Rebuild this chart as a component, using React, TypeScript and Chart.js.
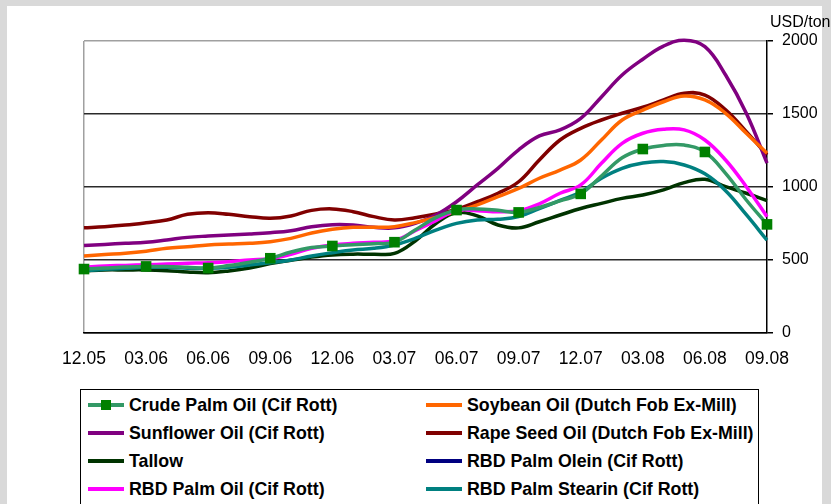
import React, { useEffect, useRef } from "react";
import { Chart, registerables } from "chart.js";
Chart.register(...registerables);

const months = [
  "12.05", "01.06", "02.06", "03.06", "04.06", "05.06", "06.06", "07.06", "08.06", "09.06",
  "10.06", "11.06", "12.06", "01.07", "02.07", "03.07", "04.07", "05.07", "06.07", "07.07",
  "08.07", "09.07", "10.07", "11.07", "12.07", "01.08", "02.08", "03.08", "04.08", "05.08",
  "06.08", "07.08", "08.08", "09.08",
];

const crudePalmOil = [438, 445, 452, 456, 455, 450, 445, 462, 485, 512, 555, 585, 596, 605, 612, 622, 705, 790, 842, 850, 840, 826, 860, 905, 953, 1075, 1200, 1260, 1285, 1287, 1240, 1094, 911, 744];
const soybeanOil = [527, 537, 546, 560, 580, 591, 603, 609, 614, 625, 648, 685, 710, 724, 724, 728, 756, 792, 831, 877, 934, 990, 1060, 1116, 1185, 1322, 1459, 1527, 1584, 1623, 1596, 1505, 1368, 1231];
const sunflowerOil = [600, 607, 614, 621, 637, 655, 664, 671, 678, 687, 701, 728, 742, 740, 724, 720, 751, 808, 899, 1014, 1128, 1255, 1350, 1391, 1470, 1617, 1767, 1875, 1965, 2005, 1961, 1767, 1505, 1164];
const rapeSeedOil = [721, 728, 739, 755, 774, 813, 824, 813, 797, 786, 802, 840, 850, 831, 797, 774, 790, 815, 847, 899, 957, 1036, 1185, 1322, 1402, 1459, 1505, 1546, 1596, 1642, 1630, 1528, 1379, 1220];
const tallow = [425, 432, 432, 432, 427, 418, 413, 425, 445, 475, 498, 520, 535, 540, 540, 545, 630, 750, 825, 802, 740, 720, 762, 808, 853, 888, 922, 945, 980, 1030, 1053, 1002, 957, 907];
const rbdPalmOlein: (number | null)[] = [];
const rbdPalmOil = [450, 459, 463, 468, 472, 477, 481, 488, 500, 509, 539, 580, 603, 614, 621, 632, 700, 770, 838, 838, 831, 838, 885, 957, 1014, 1162, 1299, 1368, 1395, 1391, 1322, 1185, 1002, 797];
const rbdPalmStearin = [425, 436, 443, 450, 450, 443, 443, 450, 466, 481, 500, 528, 550, 569, 580, 603, 648, 705, 751, 774, 779, 797, 852, 908, 965, 1060, 1128, 1164, 1174, 1151, 1090, 975, 810, 636];

const seriesNames = [
  "Crude Palm Oil (Cif Rott)",
  "Soybean Oil (Dutch Fob Ex-Mill)",
  "Sunflower Oil (Cif Rott)",
  "Rape Seed Oil (Dutch Fob Ex-Mill)",
  "Tallow",
  "RBD Palm Olein (Cif Rott)",
  "RBD Palm Oil (Cif Rott)",
  "RBD Palm Stearin (Cif Rott)",
];
const seriesData = [crudePalmOil, soybeanOil, sunflowerOil, rapeSeedOil, tallow, rbdPalmOlein, rbdPalmOil, rbdPalmStearin];
const seriesColors = ["#339966", "#ff6600", "#800080", "#800000", "#003300", "#000080", "#ff00ff", "#008080"];
const seriesOrder = [0, 3, 4, 5, 6, 7, 1, 2];
const markerColor = "#008000";

const FONT = '"Liberation Sans", Arial, Helvetica, sans-serif';

export default function App() {
  const ref = useRef<HTMLCanvasElement>(null);

  useEffect(() => {
    const canvas = ref.current;
    if (!canvas) return;
    const chart = new Chart(canvas, {
      type: "line",
      data: {
        labels: months,
        datasets: seriesNames.map((name, i) => ({
          label: name,
          data: seriesData[i],
          borderColor: seriesColors[i],
          backgroundColor: i === 0 ? markerColor : seriesColors[i],
          borderWidth: 3.5,
          tension: 0.4,
          fill: false,
          order: seriesOrder[i],
          clip: false as any,
          pointStyle: "rect",
          pointRadius: i === 0 ? ((ctx: any) => (ctx.dataIndex % 3 === 0 ? 7.5 : 0)) : 0,
          pointBorderWidth: 0,
          pointBackgroundColor: markerColor,
          pointHoverRadius: 0,
        })),
      },
      options: {
        animation: false,
        responsive: false,
        maintainAspectRatio: false,
        events: [],
        layout: { padding: { left: 84, top: 41, right: 9, bottom: 7 } },
        plugins: { legend: { display: false }, tooltip: { enabled: false } },
        scales: {
          x: {
            type: "category",
            offset: false,
            grid: {
              color: (ctx: any) => (ctx.index === 0 ? "#a0a0a0" : "rgba(0,0,0,0)"),
              lineWidth: 1.5,
              drawTicks: false,
            },
            border: { color: "#000", width: 1.5 },
            ticks: {
              autoSkip: false,
              maxRotation: 0,
              padding: 16,
              color: "#000",
              font: { family: FONT, size: 17.5 },
              callback: (_v: any, i: number) => (i % 3 === 0 ? months[i] : ""),
            },
            afterFit: (s: any) => {
              s.height = 40;
            },
          },
          y: {
            position: "right",
            min: 0,
            max: 2000,
            ticks: {
              stepSize: 500,
              padding: 9,
              color: "#000",
              font: { family: FONT, size: 16 },
              callback: (v: any) => String(v),
            },
            grid: {
              color: (ctx: any) => (ctx.tick && ctx.tick.value === 2000 ? "#a0a0a0" : "#2a2a2a"),
              lineWidth: 1.5,
              tickLength: 6,
              tickColor: "#000",
            },
            border: { color: "#000", width: 1.5 },
            afterFit: (s: any) => {
              s.width = 55;
            },
          },
        },
      },
    });
    return () => chart.destroy();
  }, []);

  const rowCenters = [405, 433, 461, 489];
  const sampleX = [88, 426];
  const textX = [129, 467];

  return (
    <div
      style={{
        position: "fixed",
        left: 0,
        top: 0,
        width: 831,
        height: 504,
        background: "#d9d9d9",
        overflow: "hidden",
        fontFamily: FONT,
      }}
    >
      <div style={{ position: "absolute", left: 7, top: 6, width: 815, height: 520, background: "#fff" }} />
      <canvas
        ref={ref}
        width={831}
        height={380}
        style={{ position: "absolute", left: 0, top: 0, width: 831, height: 380 }}
      />
      <div
        style={{
          position: "absolute",
          left: 770,
          top: 13,
          fontSize: 16,
          lineHeight: "18px",
          color: "#000",
          whiteSpace: "nowrap",
        }}
      >
        USD/ton
      </div>
      <div
        style={{
          position: "absolute",
          left: 80,
          top: 389,
          width: 679,
          height: 140,
          boxSizing: "border-box",
          border: "1px solid #000",
          background: "#fff",
        }}
      />
      {seriesNames.map((name, i) => {
        const col = i % 2;
        const row = Math.floor(i / 2);
        const cy = rowCenters[row];
        return (
          <React.Fragment key={name}>
            <div
              style={{
                position: "absolute",
                left: sampleX[col],
                top: cy - 2,
                width: 36,
                height: 4,
                background: seriesColors[i],
              }}
            />
            {i === 0 && (
              <div
                style={{
                  position: "absolute",
                  left: sampleX[col] + 13,
                  top: cy - 5,
                  width: 10,
                  height: 10,
                  background: markerColor,
                }}
              />
            )}
            <div
              style={{
                position: "absolute",
                left: textX[col],
                top: cy - 10,
                lineHeight: "20px",
                fontSize: 17.8,
                fontWeight: "bold",
                color: "#000",
                whiteSpace: "nowrap",
              }}
            >
              {name}
            </div>
          </React.Fragment>
        );
      })}
    </div>
  );
}
